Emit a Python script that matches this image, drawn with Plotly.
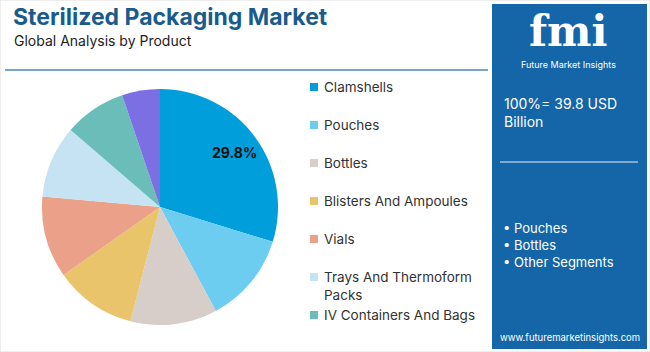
import math
import plotly.graph_objects as go

# ---- data ----
labels = ["Clamshells", "Pouches", "Bottles", "Blisters And Ampoules", "Vials",
          "Trays And Thermoform Packs", "IV Containers And Bags", "Others"]
legend_labels = ["Clamshells", "Pouches", "Bottles", "Blisters And Ampoules", "Vials",
                 "Trays And Thermoform<br>Packs", "IV Containers And Bags"]
values = [29.8, 12.4, 11.9, 11.2, 11.2, 9.9, 8.5, 5.2]
colors = ["#009FDB", "#6DCDF1", "#D7CDC9", "#EAC46B", "#EAA089",
          "#C6E3F3", "#6BBDB9", "#7C6EE3"]
shown_label = [0]  # index of the slice carrying a percent label
total_text = "100%= 39.8 USD<br>Billion"
bullets = ["• Pouches", "• Bottles", "• Other Segments"]

W, H = 650, 352
FONT = "Inter"
PANEL = "#1466A8"
CX, CY, R = 160, 207, 118  # pie centre / radius in pixels

fig = go.Figure()
fig.add_trace(go.Pie(
    labels=labels, values=values, textinfo="none",
    sort=False, direction="clockwise", rotation=0,
    marker=dict(colors=colors, line=dict(width=0)),
    hoverinfo="label+percent", showlegend=False,
    domain=dict(x=[(CX - R) / W, (CX + R) / W], y=[(H - CY - R) / H, (H - CY + R) / H]),
))

def px(x):
    return x / W

def py(y):
    return 1 - y / H

shapes = []
annotations = []

# percent label placed at slice middle angle
total = sum(values)
cum = 0.0
for i, v in enumerate(values):
    if i in shown_label:
        mid = (cum + v / 2) / total * 2 * math.pi
        lx = CX + 0.78 * R * math.sin(mid)
        ly = CY - 0.78 * R * math.cos(mid)
        annotations.append(dict(text=f"<b>{v / total * 100:.1f}%</b>", x=px(lx), y=py(ly),
                                xref="paper", yref="paper", xanchor="center", yanchor="middle",
                                showarrow=False, font=dict(family=FONT, size=14, color="#111111")))
    cum += v

# outer light border
shapes.append(dict(type="rect", xref="paper", yref="paper", x0=0, x1=1, y0=0, y1=1,
                   line=dict(color="#DDDDDD", width=1)))
# separator line under title
shapes.append(dict(type="line", xref="paper", yref="paper", x0=px(5), x1=px(488),
                   y0=py(70), y1=py(70), line=dict(color="#4A8BB9", width=1.5)))
# right panel
shapes.append(dict(type="rect", xref="paper", yref="paper", x0=px(492), x1=px(647),
                   y0=py(349), y1=py(4), fillcolor=PANEL, line=dict(width=0), layer="below"))
# panel divider
shapes.append(dict(type="line", xref="paper", yref="paper", x0=px(500), x1=px(638),
                   y0=py(162), y1=py(162), line=dict(color="#E8EEF5", width=1)))

# title and subtitle
annotations.append(dict(text="<b>Sterilized Packaging Market</b>", x=px(11), y=py(17),
                        xref="paper", yref="paper", xanchor="left", yanchor="middle",
                        showarrow=False, font=dict(family=FONT, size=23, color="#1A5B8E")))
annotations.append(dict(text="Global Analysis by Product", x=px(12), y=py(41),
                        xref="paper", yref="paper", xanchor="left", yanchor="middle",
                        showarrow=False, font=dict(family=FONT, size=14, color="#222222")))

# legend (manual)
leg_y = [87, 125, 163, 201, 239, 277, 315]
for i, (lab, yy) in enumerate(zip(legend_labels, leg_y)):
    shapes.append(dict(type="rect", xref="paper", yref="paper", x0=px(310), x1=px(318),
                       y0=py(yy + 4), y1=py(yy - 4), fillcolor=colors[i], line=dict(width=0)))
    annotations.append(dict(text=lab, x=px(322), y=py(yy - 10), xref="paper", yref="paper",
                            xanchor="left", yanchor="top", align="left", showarrow=False,
                            font=dict(family=FONT, size=13.5, color="#333333")))

# logo
annotations.append(dict(text="<b>fmi</b>", x=px(568), y=py(31), xref="paper", yref="paper",
                        xanchor="center", yanchor="middle", showarrow=False,
                        font=dict(family="DejaVu Serif", size=42, color="white")))
for yy in range(17, 55, 4):
    shapes.append(dict(type="line", xref="paper", yref="paper", x0=px(512), x1=px(625),
                       y0=py(yy), y1=py(yy), line=dict(color=PANEL, width=1)))
annotations.append(dict(text="Future Market Insights", x=px(568), y=py(64), xref="paper",
                        yref="paper", xanchor="center", yanchor="middle", showarrow=False,
                        font=dict(family=FONT, size=9, color="white")))

# total
annotations.append(dict(text=total_text, x=px(502), y=py(93), xref="paper", yref="paper",
                        xanchor="left", yanchor="top", align="left", showarrow=False,
                        font=dict(family=FONT, size=14, color="white")))
# bullets
annotations.append(dict(text="<br>".join(bullets), x=px(501), y=py(218), xref="paper",
                        yref="paper", xanchor="left", yanchor="top", align="left",
                        showarrow=False, font=dict(family=FONT, size=13, color="white")))
# url
annotations.append(dict(text="www.futuremarketinsights.com", x=px(570), y=py(337),
                        xref="paper", yref="paper", xanchor="center", yanchor="middle",
                        showarrow=False, font=dict(family=FONT, size=9.5, color="white")))

fig.update_layout(width=W, height=H, margin=dict(l=0, r=0, t=0, b=0),
                  paper_bgcolor="white", plot_bgcolor="white",
                  shapes=shapes, annotations=annotations)

fig.write_html("out.html")
